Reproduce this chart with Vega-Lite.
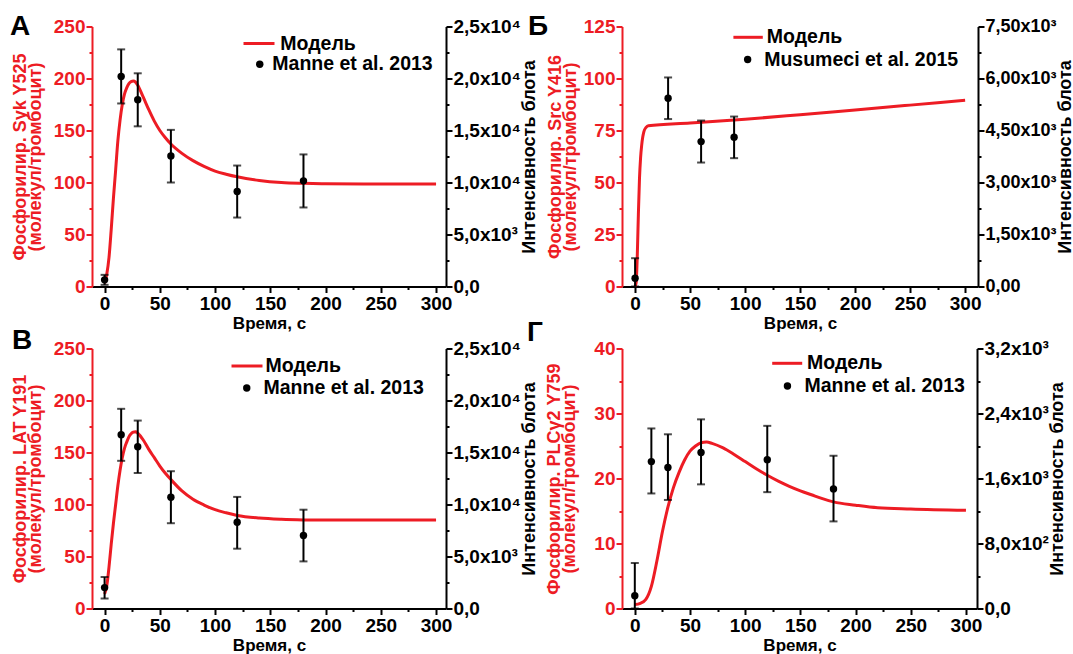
{
  "$schema": "https://vega.github.io/schema/vega-lite/v6.json",
  "padding": {"left": 10, "top": 12.5, "right": 0, "bottom": 0},
  "config": {
    "font": "Liberation Sans",
    "view": {"stroke": null},
    "title": {"offset": 0},
    "axis": {"labelFont": "Liberation Sans", "labelFontWeight": "bold", "labelFontSize": 19, "titleFont": "Liberation Sans", "titleFontWeight": "bold", "titleFontSize": 18, "grid": false, "domainWidth": 2, "tickWidth": 2, "domainColor": "black", "tickColor": "black", "labelColor": "black", "titleColor": "black", "labelOverlap": false, "labelPadding": 1, "titleLineHeight": 15},
    "legend": {"labelFont": "Liberation Sans", "labelFontWeight": "bold", "labelFontSize": 19.5, "labelColor": "black", "padding": 0, "labelLimit": 400}
  },
  "resolve": {"scale": {"color": "independent", "shape": "independent"}},
  "bounds": "flush",
  "columns": 2,
  "spacing": {"row": 62, "column": 176},
  "concat": [
        {
          "title": {"text": "A", "anchor": "start", "frame": "group", "dx": -82, "offset": -45.5, "baseline": "alphabetic", "fontSize": 28, "font": "Liberation Sans", "fontWeight": "bold", "color": "black"},
          "width": 354, "height": 260,
          "encoding": {"x": {"field": "t", "type": "quantitative", "scale": {"domain": [-11.4, 309], "nice": false, "zero": false}, "axis": {"title": "Время, с", "titleFontSize": 17, "values": [0,25,50,75,100,125,150,175,200,225,250,275,300], "labelExpr": "datum.value % 50 == 0 ? datum.label : ''", "tickSize": {"condition": {"test": "datum.value % 50 != 0", "value": 3}, "value": 6}, "labelPadding": 2, "titlePadding": 2}}},
          "layer": [
            {
              "data": {"values": [
                {"t": 0, "p": 3}, {"t": 2, "p": 12}, {"t": 4, "p": 28}, {"t": 6, "p": 55}, {"t": 8, "p": 85}, {"t": 10, "p": 112}, {"t": 12, "p": 140}, {"t": 14, "p": 160}, {"t": 16, "p": 175}, {"t": 18, "p": 185}, {"t": 20, "p": 191}, {"t": 22, "p": 195}, {"t": 24, "p": 197}, {"t": 26, "p": 197.5}, {"t": 28, "p": 196.5}, {"t": 30, "p": 193.5}, {"t": 35, "p": 182}, {"t": 40, "p": 170}, {"t": 45, "p": 159}, {"t": 50, "p": 150}, {"t": 55, "p": 143}, {"t": 60, "p": 137}, {"t": 70, "p": 128}, {"t": 80, "p": 121}, {"t": 90, "p": 115.5}, {"t": 100, "p": 111}, {"t": 110, "p": 108}, {"t": 120, "p": 105.5}, {"t": 140, "p": 102}, {"t": 160, "p": 100}, {"t": 180, "p": 99.2}, {"t": 200, "p": 98.8}, {"t": 250, "p": 98.5}, {"t": 300, "p": 98.5}
              ]},
              "mark": {"type": "line", "strokeWidth": 3, "interpolate": "monotone"},
              "encoding": {
                "y": {"field": "p", "type": "quantitative", "scale": {"domain": [0, 250], "nice": false}, "axis": {"orient": "left", "title": ["Фосфорилир. Syk Y525", "(молекул/тромбоцит)"], "values": [0,25,50,75,100,125,150,175,200,225,250], "labelExpr": "datum.value % 50 == 0 ? datum.label : ''", "tickSize": {"condition": {"test": "datum.value % 50 != 0", "value": 3}, "value": 6}, "domainColor": "#ed1c24", "tickColor": "#ed1c24", "labelColor": "#ed1c24", "titleColor": "#ed1c24", "titlePadding": 9}},
                "color": {"datum": "Модель", "type": "nominal", "scale": {"range": ["#ed1c24"]}, "legend": {"orient": "none", "legendX": 150, "legendY": 0, "title": null, "symbolType": "stroke", "symbolSize": 961, "symbolStrokeWidth": 3, "labelOffset": 4.3}}
              }
            },
            {
              "data": {"name": "expA", "values": [
                {"t": 0, "v": 640, "lo": 160, "hi": 1120},
                {"t": 15, "v": 20200, "lo": 17600, "hi": 22800},
                {"t": 30, "v": 17950, "lo": 15400, "hi": 20500},
                {"t": 60, "v": 12560, "lo": 10000, "hi": 15060},
                {"t": 120, "v": 9130, "lo": 6630, "hi": 11630},
                {"t": 180, "v": 10160, "lo": 7600, "hi": 12700}
              ]},
              "mark": {"type": "rule", "strokeWidth": 2, "color": "black"},
              "encoding": {"y": {"field": "lo", "type": "quantitative", "scale": {"domain": [0, 25000], "nice": false}, "axis": {"orient": "right", "title": "Интенсивность блота", "titleAngle": 270, "titleBaseline": "top", "values": [0,2500,5000,7500,10000,12500,15000,17500,20000,22500,25000], "labelExpr": "datum.value == 0 ? '0,0' : datum.value % 5000 != 0 ? '' : datum.value >= 10000 ? replace(format(datum.value / 10000, '.1f'), '.', ',') + 'x10⁴' : replace(format(datum.value / 1000, '.1f'), '.', ',') + 'x10³'", "tickSize": {"condition": {"test": "datum.value % 5000 != 0", "value": 3}, "value": 6}, "titlePadding": 0}}, "y2": {"field": "hi"}}
            },
            {"data": {"name": "expA"}, "mark": {"type": "tick", "orient": "horizontal", "size": 8, "thickness": 2, "color": "black"}, "encoding": {"y": {"field": "lo", "type": "quantitative", "scale": {"domain": [0, 25000], "nice": false}, "axis": null}}},
            {"data": {"name": "expA"}, "mark": {"type": "tick", "orient": "horizontal", "size": 8, "thickness": 2, "color": "black"}, "encoding": {"y": {"field": "hi", "type": "quantitative", "scale": {"domain": [0, 25000], "nice": false}, "axis": null}}},
            {"data": {"name": "expA"}, "mark": {"type": "point", "filled": true, "size": 55, "color": "black", "opacity": 1}, "encoding": {"y": {"field": "v", "type": "quantitative", "scale": {"domain": [0, 25000], "nice": false}, "axis": null}, "shape": {"datum": "Manne et al. 2013", "type": "nominal", "scale": {"range": ["circle"]}, "legend": {"orient": "none", "legendX": 158, "legendY": 28, "title": null, "labelOffset": 2.8, "symbolSize": 55}}}}
          ],
          "resolve": {"scale": {"y": "independent"}}
        },
        {
          "title": {"text": "Б", "anchor": "start", "frame": "group", "dx": -94, "offset": -45, "baseline": "alphabetic", "fontSize": 28, "font": "Liberation Sans", "fontWeight": "bold", "color": "black"},
          "width": 356, "height": 260,
          "encoding": {"x": {"field": "t", "type": "quantitative", "scale": {"domain": [-11.9, 311.7], "nice": false, "zero": false}, "axis": {"title": "Время, с", "titleFontSize": 17, "values": [0,25,50,75,100,125,150,175,200,225,250,275,300], "labelExpr": "datum.value % 50 == 0 ? datum.label : ''", "tickSize": {"condition": {"test": "datum.value % 50 != 0", "value": 3}, "value": 6}, "labelPadding": 2, "titlePadding": 2}}},
          "layer": [
            {
              "data": {"values": [
                {"t": 0, "p": 0}, {"t": 1, "p": 2}, {"t": 2, "p": 15}, {"t": 3, "p": 35}, {"t": 4, "p": 52}, {"t": 5, "p": 62}, {"t": 6, "p": 68}, {"t": 7, "p": 72}, {"t": 8, "p": 74.5}, {"t": 10, "p": 76.5}, {"t": 12, "p": 77.3}, {"t": 50, "p": 78.6}, {"t": 100, "p": 80.4}, {"t": 150, "p": 82.6}, {"t": 200, "p": 84.9}, {"t": 250, "p": 87.2}, {"t": 300, "p": 89.5}
              ]},
              "mark": {"type": "line", "strokeWidth": 3, "interpolate": "monotone"},
              "encoding": {
                "y": {"field": "p", "type": "quantitative", "scale": {"domain": [0, 125], "nice": false}, "axis": {"orient": "left", "title": ["Фосфорилир. Src Y416", "(молекул/тромбоцит)"], "values": [0,12.5,25,37.5,50,62.5,75,87.5,100,112.5,125], "labelExpr": "datum.value % 25 == 0 ? datum.label : ''", "tickSize": {"condition": {"test": "datum.value % 25 != 0", "value": 3}, "value": 6}, "domainColor": "#ed1c24", "tickColor": "#ed1c24", "labelColor": "#ed1c24", "titleColor": "#ed1c24", "titlePadding": 4}},
                "color": {"datum": "Модель", "type": "nominal", "scale": {"range": ["#ed1c24"]}, "legend": {"orient": "none", "legendX": 109.6, "legendY": -5.7, "title": null, "symbolType": "stroke", "symbolSize": 864, "symbolStrokeWidth": 3, "labelOffset": 2.2}}
              }
            },
            {
              "data": {"name": "expB", "values": [
                {"t": 0, "v": 240, "lo": 0, "hi": 816},
                {"t": 30, "v": 5430, "lo": 4830, "hi": 6030},
                {"t": 60, "v": 4180, "lo": 3576, "hi": 4788},
                {"t": 90, "v": 4308, "lo": 3702, "hi": 4902}
              ]},
              "mark": {"type": "rule", "strokeWidth": 2, "color": "black"},
              "encoding": {"y": {"field": "lo", "type": "quantitative", "scale": {"domain": [0, 7500], "nice": false}, "axis": {"orient": "right", "title": "Интенсивность блота", "titleAngle": 270, "titleBaseline": "top", "labelFontSize": 18, "values": [0,750,1500,2250,3000,3750,4500,5250,6000,6750,7500], "labelExpr": "datum.value == 0 ? '0,00' : datum.value % 1500 != 0 ? '' : replace(format(datum.value / 1000, '.2f'), '.', ',') + 'x10³'", "tickSize": {"condition": {"test": "datum.value % 1500 != 0", "value": 3}, "value": 6}, "titlePadding": 0}}, "y2": {"field": "hi"}}
            },
            {"data": {"name": "expB"}, "mark": {"type": "tick", "orient": "horizontal", "size": 8, "thickness": 2, "color": "black"}, "encoding": {"y": {"field": "lo", "type": "quantitative", "scale": {"domain": [0, 7500], "nice": false}, "axis": null}}},
            {"data": {"name": "expB"}, "mark": {"type": "tick", "orient": "horizontal", "size": 8, "thickness": 2, "color": "black"}, "encoding": {"y": {"field": "hi", "type": "quantitative", "scale": {"domain": [0, 7500], "nice": false}, "axis": null}}},
            {"data": {"name": "expB"}, "mark": {"type": "point", "filled": true, "size": 55, "color": "black", "opacity": 1}, "encoding": {"y": {"field": "v", "type": "quantitative", "scale": {"domain": [0, 7500], "nice": false}, "axis": null}, "shape": {"datum": "Musumeci et al. 2015", "type": "nominal", "scale": {"range": ["circle"]}, "legend": {"orient": "none", "legendX": 115.9, "legendY": 23.3, "title": null, "labelOffset": 6.8, "symbolSize": 55}}}}
          ],
          "resolve": {"scale": {"y": "independent"}}
        },
        {
          "title": {"text": "В", "anchor": "start", "frame": "group", "dx": -80, "offset": -37, "baseline": "alphabetic", "fontSize": 28, "font": "Liberation Sans", "fontWeight": "bold", "color": "black"},
          "width": 354, "height": 260,
          "encoding": {"x": {"field": "t", "type": "quantitative", "scale": {"domain": [-11.4, 309], "nice": false, "zero": false}, "axis": {"title": "Время, с", "titleFontSize": 17, "values": [0,25,50,75,100,125,150,175,200,225,250,275,300], "labelExpr": "datum.value % 50 == 0 ? datum.label : ''", "tickSize": {"condition": {"test": "datum.value % 50 != 0", "value": 3}, "value": 6}, "labelPadding": 2, "titlePadding": 2}}},
          "layer": [
            {
              "data": {"values": [
                {"t": 0, "p": 14}, {"t": 2, "p": 22}, {"t": 4, "p": 40}, {"t": 6, "p": 62}, {"t": 8, "p": 82}, {"t": 10, "p": 100}, {"t": 12, "p": 118}, {"t": 14, "p": 133}, {"t": 16, "p": 145}, {"t": 18, "p": 154}, {"t": 20, "p": 160}, {"t": 22, "p": 165}, {"t": 24, "p": 168}, {"t": 26, "p": 169.5}, {"t": 28, "p": 170}, {"t": 30, "p": 168.5}, {"t": 35, "p": 162}, {"t": 40, "p": 153}, {"t": 45, "p": 145}, {"t": 50, "p": 137}, {"t": 55, "p": 130}, {"t": 60, "p": 124}, {"t": 70, "p": 113}, {"t": 80, "p": 105}, {"t": 90, "p": 99.5}, {"t": 100, "p": 95}, {"t": 110, "p": 92}, {"t": 120, "p": 89.5}, {"t": 140, "p": 87}, {"t": 160, "p": 85.8}, {"t": 180, "p": 85.2}, {"t": 200, "p": 85}, {"t": 250, "p": 85}, {"t": 300, "p": 85}
              ]},
              "mark": {"type": "line", "strokeWidth": 3, "interpolate": "monotone"},
              "encoding": {
                "y": {"field": "p", "type": "quantitative", "scale": {"domain": [0, 250], "nice": false}, "axis": {"orient": "left", "title": ["Фосфорилир. LAT Y191", "(молекул/тромбоцит)"], "values": [0,25,50,75,100,125,150,175,200,225,250], "labelExpr": "datum.value % 50 == 0 ? datum.label : ''", "tickSize": {"condition": {"test": "datum.value % 50 != 0", "value": 3}, "value": 6}, "domainColor": "#ed1c24", "tickColor": "#ed1c24", "labelColor": "#ed1c24", "titleColor": "#ed1c24", "titlePadding": 9}},
                "color": {"datum": "Модель", "type": "nominal", "scale": {"range": ["#ed1c24"]}, "legend": {"orient": "none", "legendX": 138, "legendY": 0.5, "title": null, "symbolType": "stroke", "symbolSize": 961, "symbolStrokeWidth": 3, "labelOffset": 1.5}}
              }
            },
            {
              "data": {"name": "expV", "values": [
                {"t": 0, "v": 2010, "lo": 960, "hi": 3030},
                {"t": 15, "v": 16700, "lo": 14200, "hi": 19200},
                {"t": 30, "v": 15550, "lo": 13030, "hi": 18070},
                {"t": 60, "v": 10700, "lo": 8200, "hi": 13200},
                {"t": 120, "v": 8300, "lo": 5750, "hi": 10730},
                {"t": 180, "v": 7020, "lo": 4530, "hi": 9500}
              ]},
              "mark": {"type": "rule", "strokeWidth": 2, "color": "black"},
              "encoding": {"y": {"field": "lo", "type": "quantitative", "scale": {"domain": [0, 25000], "nice": false}, "axis": {"orient": "right", "title": "Интенсивность блота", "titleAngle": 270, "titleBaseline": "top", "values": [0,2500,5000,7500,10000,12500,15000,17500,20000,22500,25000], "labelExpr": "datum.value == 0 ? '0,0' : datum.value % 5000 != 0 ? '' : datum.value >= 10000 ? replace(format(datum.value / 10000, '.1f'), '.', ',') + 'x10⁴' : replace(format(datum.value / 1000, '.1f'), '.', ',') + 'x10³'", "tickSize": {"condition": {"test": "datum.value % 5000 != 0", "value": 3}, "value": 6}, "titlePadding": 0}}, "y2": {"field": "hi"}}
            },
            {"data": {"name": "expV"}, "mark": {"type": "tick", "orient": "horizontal", "size": 8, "thickness": 2, "color": "black"}, "encoding": {"y": {"field": "lo", "type": "quantitative", "scale": {"domain": [0, 25000], "nice": false}, "axis": null}}},
            {"data": {"name": "expV"}, "mark": {"type": "tick", "orient": "horizontal", "size": 8, "thickness": 2, "color": "black"}, "encoding": {"y": {"field": "hi", "type": "quantitative", "scale": {"domain": [0, 25000], "nice": false}, "axis": null}}},
            {"data": {"name": "expV"}, "mark": {"type": "point", "filled": true, "size": 55, "color": "black", "opacity": 1}, "encoding": {"y": {"field": "v", "type": "quantitative", "scale": {"domain": [0, 25000], "nice": false}, "axis": null}, "shape": {"datum": "Manne et al. 2013", "type": "nominal", "scale": {"range": ["circle"]}, "legend": {"orient": "none", "legendX": 145, "legendY": 29.7, "title": null, "labelOffset": 7, "symbolSize": 55}}}}
          ],
          "resolve": {"scale": {"y": "independent"}}
        },
        {
          "title": {"text": "Г", "anchor": "start", "frame": "group", "dx": -95, "offset": -29, "baseline": "alphabetic", "fontSize": 28, "font": "Liberation Sans", "fontWeight": "bold", "color": "black"},
          "width": 355, "height": 260,
          "encoding": {"x": {"field": "t", "type": "quantitative", "scale": {"domain": [-11.6, 310], "nice": false, "zero": false}, "axis": {"title": "Время, с", "titleFontSize": 17, "values": [0,25,50,75,100,125,150,175,200,225,250,275,300], "labelExpr": "datum.value % 50 == 0 ? datum.label : ''", "tickSize": {"condition": {"test": "datum.value % 50 != 0", "value": 3}, "value": 6}, "labelPadding": 2, "titlePadding": 2}}},
          "layer": [
            {
              "data": {"values": [
                {"t": 0, "p": 0.6}, {"t": 5, "p": 0.8}, {"t": 10, "p": 1.4}, {"t": 15, "p": 3.4}, {"t": 20, "p": 7.3}, {"t": 25, "p": 11.8}, {"t": 30, "p": 15.6}, {"t": 35, "p": 18.6}, {"t": 40, "p": 20.9}, {"t": 45, "p": 22.8}, {"t": 50, "p": 24.2}, {"t": 55, "p": 25.0}, {"t": 60, "p": 25.5}, {"t": 65, "p": 25.6}, {"t": 70, "p": 25.4}, {"t": 80, "p": 24.7}, {"t": 90, "p": 23.7}, {"t": 100, "p": 22.6}, {"t": 110, "p": 21.5}, {"t": 120, "p": 20.5}, {"t": 130, "p": 19.6}, {"t": 140, "p": 18.8}, {"t": 150, "p": 18.1}, {"t": 160, "p": 17.5}, {"t": 170, "p": 16.9}, {"t": 180, "p": 16.4}, {"t": 200, "p": 15.9}, {"t": 220, "p": 15.5}, {"t": 250, "p": 15.3}, {"t": 300, "p": 15.1}
              ]},
              "mark": {"type": "line", "strokeWidth": 3, "interpolate": "monotone"},
              "encoding": {
                "y": {"field": "p", "type": "quantitative", "scale": {"domain": [0, 40], "nice": false}, "axis": {"orient": "left", "title": ["Фосфорилир. PLCγ2 Y759", "(молекул/тромбоцит)"], "values": [0,5,10,15,20,25,30,35,40], "labelExpr": "datum.value % 10 == 0 ? datum.label : ''", "tickSize": {"condition": {"test": "datum.value % 10 != 0", "value": 3}, "value": 6}, "domainColor": "#ed1c24", "tickColor": "#ed1c24", "labelColor": "#ed1c24", "titleColor": "#ed1c24", "titlePadding": 15}},
                "color": {"datum": "Модель", "type": "nominal", "scale": {"range": ["#ed1c24"]}, "legend": {"orient": "none", "legendX": 148.7, "legendY": -1.7, "title": null, "symbolType": "stroke", "symbolSize": 900, "symbolStrokeWidth": 3, "labelOffset": 3.3}}
              }
            },
            {
              "data": {"name": "expG", "values": [
                {"t": 0, "v": 156, "lo": 0, "hi": 560},
                {"t": 15, "v": 1808, "lo": 1416, "hi": 2216},
                {"t": 30, "v": 1736, "lo": 1336, "hi": 2144},
                {"t": 60, "v": 1920, "lo": 1528, "hi": 2328},
                {"t": 120, "v": 1832, "lo": 1432, "hi": 2248},
                {"t": 180, "v": 1472, "lo": 1072, "hi": 1880}
              ]},
              "mark": {"type": "rule", "strokeWidth": 2, "color": "black"},
              "encoding": {"y": {"field": "lo", "type": "quantitative", "scale": {"domain": [0, 3200], "nice": false}, "axis": {"orient": "right", "title": "Интенсивность блота", "titleAngle": 270, "titleBaseline": "top", "values": [0,400,800,1200,1600,2000,2400,2800,3200], "labelExpr": "datum.value == 0 ? '0,0' : datum.value % 800 != 0 ? '' : datum.value >= 1000 ? replace(format(datum.value / 1000, '.1f'), '.', ',') + 'x10³' : replace(format(datum.value / 100, '.1f'), '.', ',') + 'x10²'", "tickSize": {"condition": {"test": "datum.value % 800 != 0", "value": 3}, "value": 6}, "titlePadding": 0}}, "y2": {"field": "hi"}}
            },
            {"data": {"name": "expG"}, "mark": {"type": "tick", "orient": "horizontal", "size": 8, "thickness": 2, "color": "black"}, "encoding": {"y": {"field": "lo", "type": "quantitative", "scale": {"domain": [0, 3200], "nice": false}, "axis": null}}},
            {"data": {"name": "expG"}, "mark": {"type": "tick", "orient": "horizontal", "size": 8, "thickness": 2, "color": "black"}, "encoding": {"y": {"field": "hi", "type": "quantitative", "scale": {"domain": [0, 3200], "nice": false}, "axis": null}}},
            {"data": {"name": "expG"}, "mark": {"type": "point", "filled": true, "size": 55, "color": "black", "opacity": 1}, "encoding": {"y": {"field": "v", "type": "quantitative", "scale": {"domain": [0, 3200], "nice": false}, "axis": null}, "shape": {"datum": "Manne et al. 2013", "type": "nominal", "scale": {"range": ["circle"]}, "legend": {"orient": "none", "legendX": 155.7, "legendY": 27.7, "title": null, "labelOffset": 7.3, "symbolSize": 55}}}}
          ],
          "resolve": {"scale": {"y": "independent"}}
        }
  ]
}
